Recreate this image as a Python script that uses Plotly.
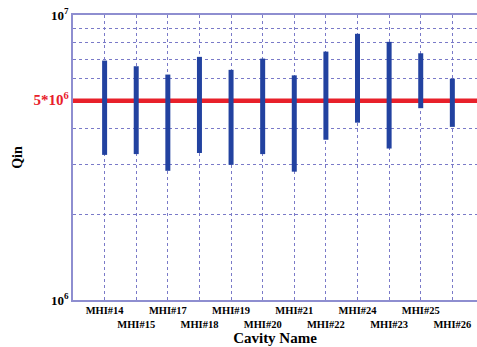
import plotly.graph_objects as go

cavities = ["MHI#14", "MHI#15", "MHI#17", "MHI#18", "MHI#19", "MHI#20",
            "MHI#21", "MHI#22", "MHI#24", "MHI#23", "MHI#25", "MHI#26"]
qin_high = [6.92e6, 6.61e6, 6.18e6, 7.13e6, 6.42e6, 7.03e6,
            6.14e6, 7.44e6, 8.59e6, 8.05e6, 7.34e6, 5.98e6]
qin_low = [3.23e6, 3.25e6, 2.84e6, 3.28e6, 2.98e6, 3.25e6,
           2.82e6, 3.65e6, 4.19e6, 3.40e6, 4.71e6, 4.05e6]
threshold = 5e6

pos = list(range(1, len(cavities) + 1))
xs, ys = [], []
for p, lo, hi in zip(pos, qin_low, qin_high):
    xs += [p, p, None]
    ys += [lo, hi, None]

serif = "Liberation Serif"
fig = go.Figure()
fig.add_trace(go.Scatter(x=[0, 13.5], y=[threshold, threshold], mode="lines",
                         line=dict(color="#e8202a", width=4.5), hoverinfo="skip",
                         showlegend=False))
fig.add_trace(go.Scatter(x=xs, y=ys, mode="lines",
                         line=dict(color="#2242a0", width=5), showlegend=False))

ticktext_x = [c if i % 2 == 0 else "<br>" + c for i, c in enumerate(cavities)]

grid_col = "#7a7ac8"
fig.update_layout(
    width=477, height=347,
    margin=dict(l=73, r=0, t=15, b=47),
    plot_bgcolor="white", paper_bgcolor="white",
    font=dict(family=serif, color="black"),
    xaxis=dict(
        range=[0, 12.78], tickmode="array", tickvals=pos, ticktext=ticktext_x,
        tickangle=0, automargin=False,
        tickfont=dict(family=serif, size=10.5, weight="bold"),
        showgrid=True, gridcolor=grid_col, griddash="dot", gridwidth=1,
        showline=True, linecolor="#8e8ed0", linewidth=1.5, mirror=True,
        ticks="", zeroline=False,
        title=dict(text="Cavity Name", font=dict(family=serif, size=15, weight="bold"),
                   standoff=2),
    ),
    yaxis=dict(
        type="log", range=[6, 7], automargin=False,
        tickmode="array", tickvals=[1e6, 5e6, 1e7],
        ticktext=["10<sup>6</sup>",
                  "<span style='color:#e8202a;font-size:15px'>5*10<sup>6</sup></span>",
                  "10<sup>7</sup>"],
        tickfont=dict(family=serif, size=13, weight="bold"),
        showgrid=False,
        showline=True, linecolor="#8e8ed0", linewidth=1.5, mirror=True,
        ticks="", zeroline=False,
        minor=dict(tickmode="array", tickvals=[2e6, 3e6, 4e6, 6e6, 7e6, 8e6, 9e6],
                   showgrid=True, gridcolor=grid_col, griddash="dot", gridwidth=1,
                   ticks=""),
        title=dict(text="Qin", font=dict(family=serif, size=14, weight="bold"),
                   standoff=8),
    ),
)
fig.write_html("out.html")
